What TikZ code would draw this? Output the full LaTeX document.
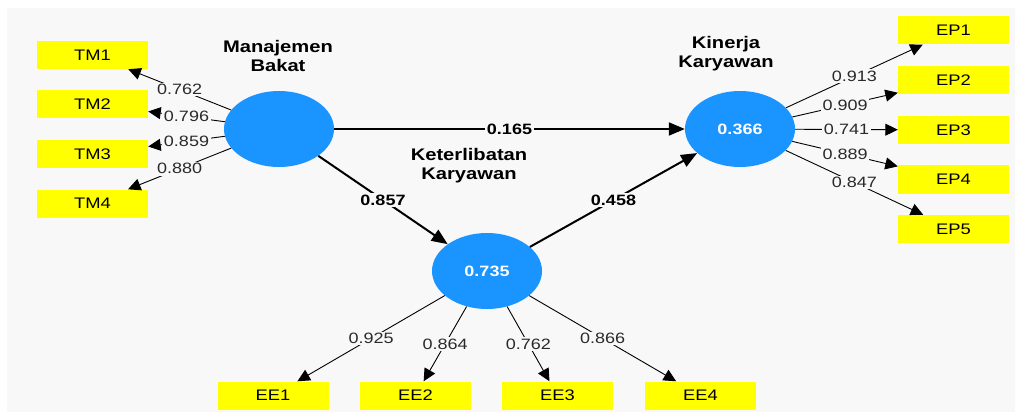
\documentclass[tikz,border=0pt]{standalone}
\usepackage{fontspec}
\setmainfont{Liberation Sans}[FakeStretch=1.2]
\usetikzlibrary{shapes.geometric,arrows.meta}
\definecolor{bgc}{HTML}{F8F8F8}
\definecolor{lvblue}{HTML}{1A94FF}
\definecolor{indyel}{HTML}{FFFF00}
\definecolor{labgray}{HTML}{2A2A2A}
\tikzset{
  lv/.style={ellipse,fill=lvblue,draw=none,minimum width=110pt,minimum height=76pt,inner sep=0pt,
    text=white,font=\fontsize{15}{18}\selectfont\bfseries},
  ind/.style={rectangle,fill=indyel,draw=none,minimum width=111pt,minimum height=28pt,inner sep=0pt,
    font=\fontsize{15.3}{18}\selectfont},
  lvname/.style={align=center,font=\fontsize{16.8}{19}\selectfont\bfseries},
  load/.style={line width=0.9pt,-{Triangle[length=12.5pt,width=12pt]}},
  path/.style={line width=2pt,-{Triangle[length=16pt,width=13pt]}},
  lab/.style={fill=bgc,inner sep=1.5pt,text=labgray,font=\fontsize{15}{16}\selectfont},
  blab/.style={fill=bgc,inner sep=1.5pt,font=\fontsize{15}{16}\selectfont\bfseries}
}
\begin{document}
\begin{tikzpicture}[x=1pt,y=-1pt]
\useasboundingbox (0,0) rectangle (1019,414);
\fill[bgc] (7,8) rectangle (1015,412);
% latent variables
\node[lv] (mb) at (279,129) {};
\node[lv] (kk) at (740,129) {0.366};
\node[lv] (ke) at (487,271) {0.735};
\node[lvname] (mbn) at (278,56) {Manajemen\\Bakat};
\node[lvname] (kkn) at (726,53.5) {Kinerja\\Karyawan};
\node[lvname] (ken) at (469,165.5) {Keterlibatan\\Karyawan};
% indicators
\node[ind] (tm1) at (92.5,55) {TM1};
\node[ind] (tm2) at (92.5,104) {TM2};
\node[ind] (tm3) at (92.5,154) {TM3};
\node[ind] (tm4) at (92.5,203.5) {TM4};
\node[ind] (ep1) at (953.5,30.5) {EP1};
\node[ind] (ep2) at (953.5,80) {EP2};
\node[ind] (ep3) at (953.5,130) {EP3};
\node[ind] (ep4) at (953.5,179.5) {EP4};
\node[ind] (ep5) at (953.5,229) {EP5};
\node[ind] (ee1) at (273,395.5) {EE1};
\node[ind] (ee2) at (415.5,395.5) {EE2};
\node[ind] (ee3) at (557.5,395.5) {EE3};
\node[ind] (ee4) at (700.5,395.5) {EE4};
% loadings
\draw[load] (mb) -- node[lab]{0.762} (tm1);
\draw[load] (mb) -- node[lab]{0.796} (tm2);
\draw[load] (mb) -- node[lab]{0.859} (tm3);
\draw[load] (mb) -- node[lab]{0.880} (tm4);
\draw[load] (kk) -- node[lab]{0.913} (ep1);
\draw[load] (kk) -- node[lab]{0.909} (ep2);
\draw[load] (kk) -- node[lab]{0.741} (ep3);
\draw[load] (kk) -- node[lab]{0.889} (ep4);
\draw[load] (kk) -- node[lab]{0.847} (ep5);
\draw[load] (ke) -- node[lab]{0.925} (ee1);
\draw[load] (ke) -- node[lab]{0.864} (ee2);
\draw[load] (ke) -- node[lab]{0.762} (ee3);
\draw[load] (ke) -- node[lab]{0.866} (ee4);
% structural paths
\draw[path] (mb) -- node[blab]{0.165} (kk);
\draw[path] (mb) -- node[blab]{0.857} (ke);
\draw[path] (ke) -- node[blab]{0.458} (kk);
\end{tikzpicture}
\end{document}
